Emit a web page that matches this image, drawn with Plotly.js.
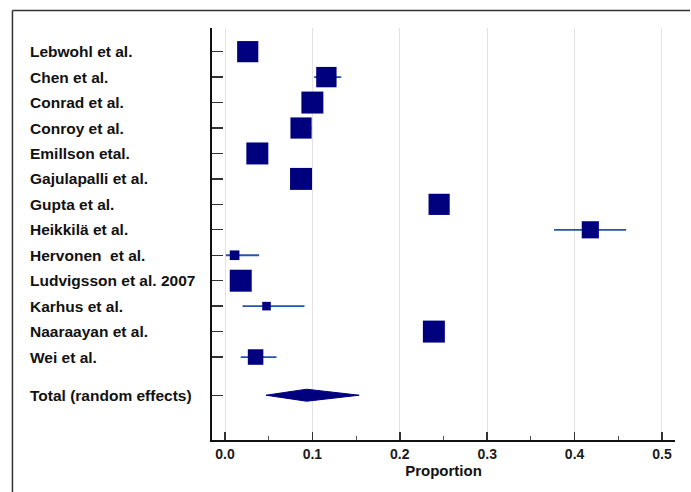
<!DOCTYPE html>
<html>
<head>
<meta charset="utf-8">
<script src="https://cdn.plot.ly/plotly-3.0.1.min.js"></script>
<style>html,body{margin:0;padding:0;background:#fff;}#chart{width:691px;height:492px;}</style>
</head>
<body>
<div id="chart"></div>
<script>
// ---- data ----
const studies = ["Lebwohl et al.", "Chen et al.", "Conrad et al.", "Conroy et al.", "Emillson etal.",
  "Gajulapalli et al.", "Gupta et al.", "Heikkilä et al.", "Hervonen  et al.", "Ludvigsson et al. 2007",
  "Karhus et al.", "Naaraayan et al.", "Wei et al."];
const proportion = [0.026, 0.116, 0.100, 0.087, 0.037, 0.087, 0.245, 0.418, 0.011, 0.018, 0.0475, 0.239, 0.035];
const ciLower   = [0.022, 0.102, 0.092, 0.078, 0.032, 0.078, 0.238, 0.3765, 0.001, 0.016, 0.020, 0.232, 0.018];
const ciUpper   = [0.031, 0.133, 0.108, 0.099, 0.043, 0.096, 0.252, 0.459, 0.039, 0.021, 0.091, 0.247, 0.059];
const weights   = [7.9, 7.6, 8.2, 7.9, 8.2, 8.2, 7.9, 6.4, 3.6, 8.2, 3.2, 8.2, 5.8];
const totalLabel = "Total (random effects)";
const totalEst = 0.0934;
const totalLower = 0.0469;
const totalUpper = 0.1535;

// ---- layout helpers ----
const rowIdx = studies.map((_, i) => i);
const totalRow = studies.length + 0.5;
const diamondHalf = 0.236;
const navy = '#00007f';

const traces = [
  {
    type: 'scatter', mode: 'markers',
    x: proportion, y: rowIdx,
    marker: { size: 1, opacity: 0, color: navy },
    error_x: { type: 'data', symmetric: false,
      array: ciUpper.map((u, i) => u - proportion[i]),
      arrayminus: proportion.map((p, i) => p - ciLower[i]),
      color: '#2456a6', thickness: 1.8, width: 0 },
    hoverinfo: 'skip', showlegend: false
  },
  {
    type: 'scatter', mode: 'markers',
    x: proportion, y: rowIdx,
    marker: { symbol: 'square', color: navy, opacity: 1, size: weights.map(w => w * 2.68), line: { width: 0 } },
    hoverinfo: 'x+text', text: studies, showlegend: false
  },
  {
    type: 'scatter', mode: 'lines',
    x: [totalLower, totalEst, totalUpper, totalEst, totalLower],
    y: [totalRow, totalRow - diamondHalf, totalRow, totalRow + diamondHalf, totalRow],
    fill: 'toself', fillcolor: navy, line: { color: navy, width: 1 },
    showlegend: false, hoverinfo: 'skip'
  }
];

const annotations = studies.concat([totalLabel]).map((s, i) => ({
  text: s, xref: 'paper', yref: 'y',
  x: -0.3974, y: i < studies.length ? rowIdx[i] : totalRow,
  xanchor: 'left', yanchor: 'middle', showarrow: false,
  font: { family: 'Arial, Liberation Sans', size: 15.5, color: '#111', weight: 'bold' }
}));

const layout = {
  width: 691, height: 492,
  margin: { l: 212, r: 16, t: 28, b: 52 },
  paper_bgcolor: '#fff', plot_bgcolor: '#fff',
  showlegend: false,
  xaxis: {
    range: [-0.01487, 0.5149],
    tickvals: [0, 0.1, 0.2, 0.3, 0.4, 0.5],
    ticktext: ['0.0', '0.1', '0.2', '0.3', '0.4', '0.5'],
    ticks: 'inside', ticklen: 8, tickwidth: 1.5, tickcolor: '#333',
    minor: { dtick: 0.05, tick0: 0, ticks: 'inside', ticklen: 4, tickcolor: '#555', tickwidth: 1, showgrid: false },
    showgrid: true, gridcolor: '#e3e3e3', gridwidth: 1,
    zeroline: false,
    showline: true, linecolor: '#111', linewidth: 2,
    tickfont: { family: 'Arial, Liberation Sans', size: 14, color: '#1a1a1a', weight: 'bold' },
    title: { text: 'Proportion', standoff: 3,
      font: { family: 'Arial, Liberation Sans', size: 15, color: '#111', weight: 'bold' } }
  },
  yaxis: {
    range: [15.26, -0.93],
    tickvals: rowIdx.concat([totalRow]),
    showticklabels: false,
    ticks: 'inside', ticklen: 11, tickwidth: 1.3, tickcolor: '#333',
    showgrid: false, zeroline: false,
    showline: true, linecolor: '#111', linewidth: 2
  },
  annotations: annotations,
  shapes: [
    { type: 'line', xref: 'paper', yref: 'paper', x0: -0.431, x1: 1.0324, y0: 1.0425, y1: 1.0425,
      line: { color: '#333', width: 1.5 }, layer: 'below' },
    { type: 'line', xref: 'paper', yref: 'paper', x0: -0.431, x1: -0.431, y0: 1.0425, y1: -0.2,
      line: { color: '#333', width: 1.5 }, layer: 'below' }
  ]
};

Plotly.newPlot('chart', traces, layout, { displayModeBar: false, staticPlot: true });
</script>
</body>
</html>
